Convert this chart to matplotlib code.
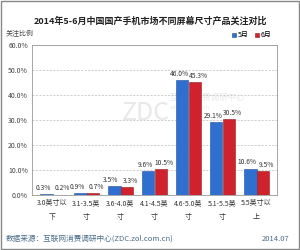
import numpy as np
import matplotlib.pyplot as plt
from matplotlib.patches import Rectangle

plt.rcParams['font.family'] = ['Noto Sans CJK SC', 'DejaVu Sans']

categories = ['3.0英寸以\n下', '3.1-3.5英\n寸', '3.6-4.0英\n寸', '4.1-4.5英\n寸',
              '4.6-5.0英\n寸', '5.1-5.5英\n寸', '5.5英寸以\n上']
may = [0.3, 0.9, 3.5, 9.6, 46.0, 29.1, 10.6]
june = [0.2, 0.7, 3.3, 10.5, 45.3, 30.5, 9.5]
yticks = [0, 10, 20, 30, 40, 50, 60]

fig = plt.figure(figsize=(3, 2.5), dpi=100)
ax = fig.add_axes([0.107, 0.22, 0.816, 0.60])

x = np.arange(len(categories))
w = 0.38
b1 = ax.bar(x - w / 2, may, w, color='#2f6fcf', edgecolor='#1d4f9f', linewidth=0.4, label='5月')
b2 = ax.bar(x + w / 2, june, w, color='#d0222c', edgecolor='#951a20', linewidth=0.4, label='6月')

# labels pushed slightly apart so neighbours do not collide
for rect, v in zip(b1, may):
    ax.text(rect.get_x() + rect.get_width() / 2 - 0.09, v + 0.8, f'{v:.1f}%',
            ha='center', va='bottom', fontsize=4.8, color='#333333')
for rect, v in zip(b2, june):
    ax.text(rect.get_x() + rect.get_width() / 2 + 0.09, v + 0.8, f'{v:.1f}%',
            ha='center', va='bottom', fontsize=4.8, color='#333333')

ax.set_ylim(0, 60)
ax.set_xlim(-0.6, len(categories) - 0.4)
ax.set_yticks(yticks)
ax.set_yticklabels([f'{t:.1f}%' for t in yticks], fontsize=5, color='#444444')
ax.set_xticks(x)
ax.set_xticklabels(categories, fontsize=5, color='#333333', linespacing=1.9)
ax.tick_params(length=0, pad=3)
ax.yaxis.grid(True, linestyle=(0, (3, 2)), color='#bbbbbb', linewidth=0.5)
ax.set_axisbelow(True)
for s in ax.spines.values():
    s.set_color('#999999')
    s.set_linewidth(0.6)

# watermark
ax.text(2.75, 33, 'ZDC', fontsize=18, color='#e8e8e8', ha='center', va='center', zorder=0)
ax.text(4.55, 39, '互联网消费调研中心', fontsize=6, color='#e8e8e8', ha='center', va='center', zorder=0)
ax.text(4.05, 35, 'zdc.zol.com.cn', fontsize=4.2, color='#e8e8e8', ha='center', va='center', zorder=0)

fig.text(0.5, 0.915, '2014年5-6月中国国产手机市场不同屏幕尺寸产品关注对比', ha='center', va='center',
         fontsize=6.5, fontweight='bold', color='#222222')
fig.text(0.02, 0.865, '关注比例', fontsize=5, color='#444444', va='center')
ax.legend(loc='lower right', bbox_to_anchor=(0.99, 1.02), ncol=2, fontsize=5, frameon=False,
          handlelength=0.6, handleheight=0.6, handletextpad=0.3, columnspacing=0.8, borderaxespad=0)

fig.text(0.02, 0.045, '数据来源：互联网消费调研中心(ZDC.zol.com.cn)', fontsize=5.5, color='#4a6e8c', va='center')
fig.text(0.965, 0.045, '2014.07', fontsize=5.5, color='#4a6e8c', va='center', ha='right')

fig.patches.append(Rectangle((0.003, 0.004), 0.994, 0.992, transform=fig.transFigure,
                             fill=False, edgecolor='#888888', linewidth=1))

fig.savefig('out.png', dpi=100)
